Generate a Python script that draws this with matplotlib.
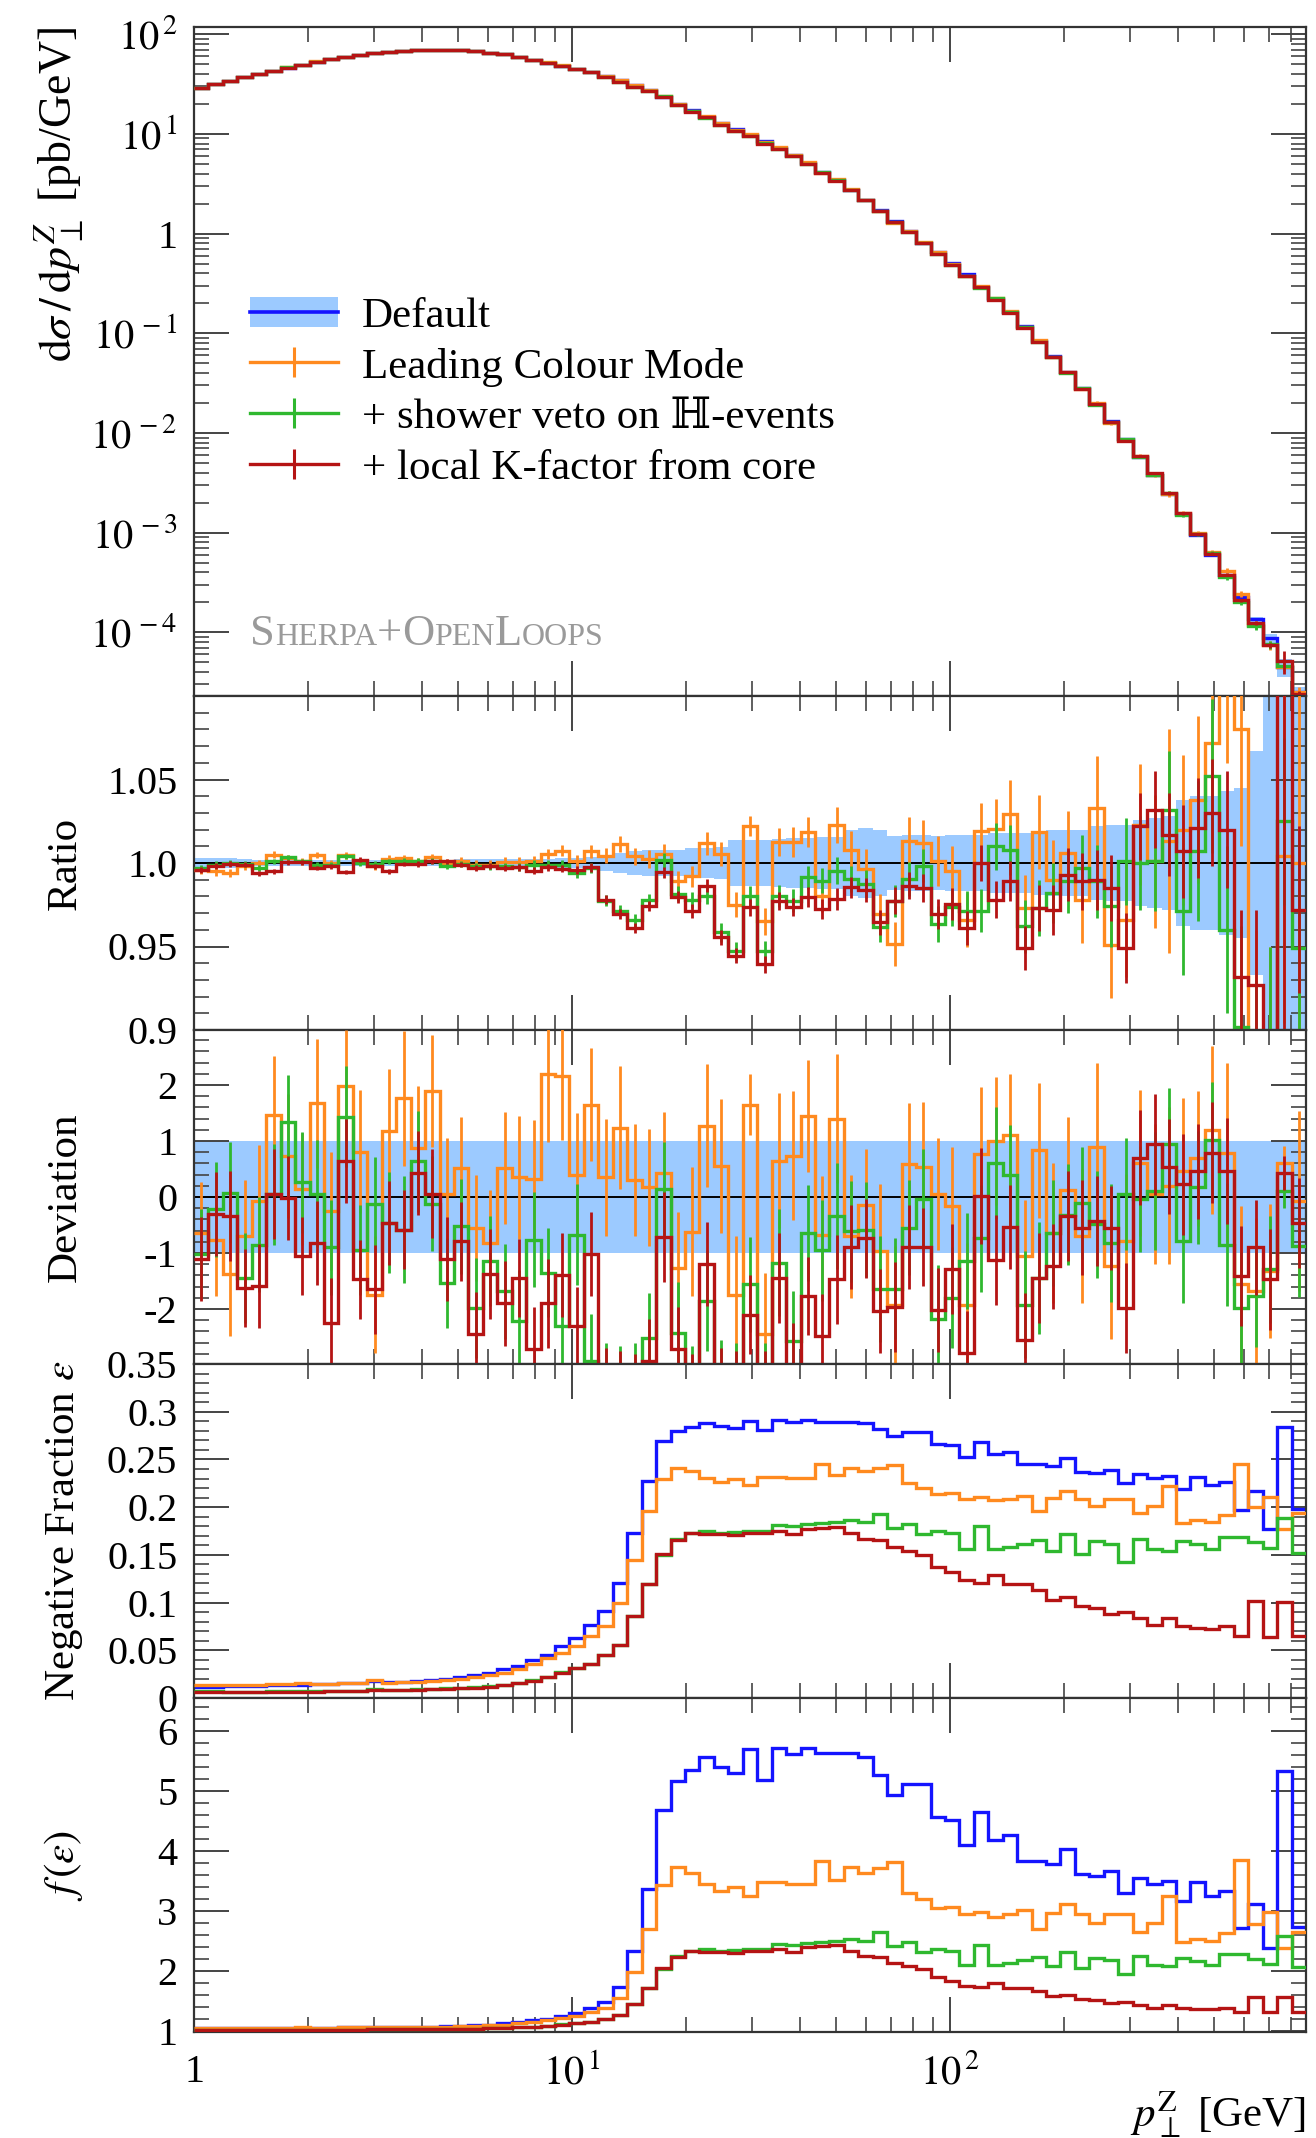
import numpy as np
import matplotlib
matplotlib.use('Agg')
import matplotlib.pyplot as plt
from matplotlib.ticker import FixedLocator, FuncFormatter, NullFormatter
from matplotlib.patches import Patch
from matplotlib.lines import Line2D

plt.rcParams['font.family'] = ['Liberation Serif', 'DejaVu Serif']
plt.rcParams['mathtext.fontset'] = 'stix'
plt.rcParams['axes.unicode_minus'] = False

# binning in pT (log bins)
pt_min, pt_max, n_bins = 1.0, 875.0, 77
edges = np.logspace(np.log10(pt_min), np.log10(pt_max), n_bins + 1)
centers = 0.5 * (edges[:-1] + edges[1:])

# dsigma/dpT of the default run [pb/GeV]
xs_default = np.array([
    29.1, 31.5, 34.0, 37.0, 39.9, 42.8, 46.2, 49.5, 53.1, 56.0,
    59.2, 61.9, 64.3, 66.4, 67.9, 68.9, 69.5, 69.5, 68.9, 67.3,
    65.3, 62.8, 59.2, 55.2, 51.9, 48.4, 44.8, 41.5, 38.0, 34.3,
    30.9, 27.5, 23.7, 20.0, 17.2, 14.8, 12.9, 11.2, 9.77, 8.51,
    7.24, 6.10, 5.07, 4.17, 3.43, 2.75, 2.19, 1.74, 1.35, 1.05,
    0.813, 0.646, 0.501, 0.389, 0.292, 0.221, 0.162, 0.119, 0.0841, 0.0589,
    0.0407, 0.0282, 0.0195, 0.0132, 0.00871, 0.00575, 0.0038, 0.00243, 0.00155, 0.000955,
    0.000596, 0.000372, 0.000224, 0.000135, 0.000087, 0.000045, 0.000025])

# relative uncertainty of the default run (ratio band half width)
band_default = np.array([
    0.003, 0.003, 0.0028, 0.0025, 0.002, 0.0018, 0.0018, 0.0017, 0.0018, 0.0018,
    0.0019, 0.0018, 0.0019, 0.0018, 0.0019, 0.0019, 0.002, 0.002, 0.0021, 0.0021,
    0.0022, 0.0022, 0.0023, 0.0024, 0.0025, 0.0028, 0.003, 0.0035, 0.005, 0.006,
    0.007, 0.0075, 0.0075, 0.008, 0.009, 0.009, 0.0095, 0.014, 0.014, 0.014,
    0.0145, 0.015, 0.015, 0.0155, 0.0155, 0.02, 0.021, 0.02, 0.016, 0.017,
    0.017, 0.016, 0.017, 0.017, 0.017, 0.018, 0.018, 0.018, 0.019, 0.02,
    0.02, 0.02, 0.022, 0.023, 0.023, 0.026, 0.027, 0.028, 0.038, 0.04,
    0.04, 0.043, 0.045, 0.067, 0.1, 0.2, 0.12])

# ratios to default
ratio_lc = np.array([
    0.996, 0.995, 0.994, 0.998, 1.0, 1.005, 1.003, 1.001, 1.005, 1.0,
    1.0046, 1.001, 0.998, 1.0026, 1.003, 1.001, 1.0034, 1.0, 1.001, 0.999,
    0.999, 1.0006, 1.0004, 1.001, 1.0054, 1.0074, 1.0014, 1.007, 1.0044, 1.0114,
    1.004, 1.0024, 1.0054, 0.989, 0.992, 1.0118, 1.0054, 0.975, 1.0224, 0.965,
    1.0124, 1.0124, 1.0184, 0.9804, 1.0228, 1.008, 0.9964, 0.9694, 0.9514, 1.0134,
    1.0118, 1.0014, 0.9954, 0.966, 1.019, 1.0204, 1.0296, 0.973, 1.0186, 0.99,
    1.006, 0.978, 1.033, 0.951, 0.966, 1.023, 1.001, 1.013, 1.0196, 1.038,
    1.072, 1.12, 1.08, 0.88, 0.86, 1.004, 1.0])
ratio_veto = np.array([
    0.997, 0.999, 1.0, 0.9994, 0.997, 1.001, 1.0034, 1.001, 0.999, 0.999,
    1.004, 1.0, 0.9994, 1.001, 1.001, 1.0014, 1.001, 0.998, 0.9994, 0.998,
    0.998, 0.998, 0.9974, 0.999, 0.999, 0.9988, 0.994, 0.997, 0.9775, 0.9715,
    0.9656, 0.9776, 1.0016, 0.9816, 0.9778, 0.9804, 0.9584, 0.9474, 0.9804, 0.9474,
    0.9804, 0.9774, 0.9914, 0.9894, 0.9954, 0.9904, 0.9874, 0.9614, 0.9774, 0.9904,
    0.9984, 0.9634, 0.9734, 0.971, 0.9714, 1.01, 1.008, 0.962, 0.973, 0.982,
    0.989, 0.997, 0.989, 0.974, 1.001, 1.0, 1.001, 1.032, 0.971, 1.007,
    1.052, 0.96, 0.902, 0.86, 0.87, 1.025, 0.949])
ratio_kfac = np.array([
    0.996, 0.998, 0.9994, 0.999, 0.994, 0.995, 1.0004, 1.0004, 0.997, 0.998,
    0.9946, 1.002, 0.998, 0.995, 0.9994, 0.9994, 1.001, 1.001, 0.999, 0.997,
    0.9984, 0.997, 0.9974, 0.9954, 0.9974, 0.9966, 0.9956, 0.9974, 0.978, 0.9692,
    0.9612, 0.9742, 0.9944, 0.9796, 0.9712, 0.9864, 0.9554, 0.9444, 0.9734, 0.9394,
    0.9774, 0.9738, 0.9798, 0.9724, 0.9784, 0.9854, 0.9838, 0.9644, 0.9774, 0.9864,
    0.985, 0.9694, 0.9754, 0.961, 1.0, 0.978, 0.989, 0.949, 0.973, 0.972,
    0.993, 0.989, 0.99, 0.985, 0.949, 1.022, 1.032, 1.017, 1.007, 1.021,
    1.03, 1.02, 0.932, 0.927, 0.85, 1.15, 0.972])

# relative statistical errors of the ratios
rerr_lc = np.array([
    0.0025, 0.0025, 0.0025, 0.0022, 0.002, 0.002, 0.0018, 0.002, 0.0018, 0.002,
    0.002, 0.002, 0.0022, 0.002, 0.002, 0.0022, 0.002, 0.0022, 0.0024, 0.0025,
    0.0025, 0.0028, 0.003, 0.003, 0.0032, 0.0035, 0.0035, 0.004, 0.0045, 0.005,
    0.005, 0.0055, 0.006, 0.006, 0.0065, 0.007, 0.007, 0.0075, 0.006, 0.008,
    0.0085, 0.009, 0.009, 0.01, 0.011, 0.011, 0.012, 0.012, 0.013, 0.014,
    0.014, 0.015, 0.015, 0.016, 0.017, 0.018, 0.02, 0.02, 0.022, 0.024,
    0.025, 0.026, 0.031, 0.032, 0.034, 0.036, 0.04, 0.067, 0.045, 0.05,
    0.055, 0.06, 0.07, 0.08, 0.09, 0.1, 0.12])
rerr_veto = np.array([
    0.002, 0.002, 0.002, 0.0018, 0.0016, 0.0015, 0.0015, 0.0015, 0.0015, 0.0015,
    0.0016, 0.0016, 0.0016, 0.0016, 0.0017, 0.0017, 0.0018, 0.0018, 0.0019, 0.002,
    0.002, 0.0022, 0.0024, 0.0025, 0.0026, 0.0028, 0.003, 0.003, 0.0035, 0.0035,
    0.004, 0.004, 0.0045, 0.0045, 0.005, 0.005, 0.0055, 0.0055, 0.006, 0.006,
    0.0065, 0.007, 0.007, 0.0075, 0.008, 0.008, 0.0085, 0.009, 0.0095, 0.01,
    0.01, 0.011, 0.011, 0.012, 0.013, 0.014, 0.015, 0.016, 0.017, 0.018,
    0.019, 0.02, 0.022, 0.024, 0.026, 0.028, 0.03, 0.035, 0.038, 0.042,
    0.046, 0.05, 0.06, 0.07, 0.08, 0.05, 0.07])
rerr_kfac = np.array([
    0.0018, 0.0018, 0.0018, 0.0016, 0.0015, 0.0014, 0.0014, 0.0013, 0.0013, 0.0013,
    0.0013, 0.0014, 0.0014, 0.0014, 0.0014, 0.0015, 0.0015, 0.0015, 0.0016, 0.0016,
    0.0017, 0.0018, 0.0019, 0.002, 0.0021, 0.0022, 0.0024, 0.0025, 0.0028, 0.003,
    0.003, 0.0032, 0.0035, 0.0035, 0.004, 0.004, 0.0045, 0.0045, 0.005, 0.005,
    0.0055, 0.0055, 0.006, 0.006, 0.0065, 0.0065, 0.007, 0.0075, 0.008, 0.008,
    0.0085, 0.009, 0.0095, 0.01, 0.011, 0.011, 0.012, 0.013, 0.014, 0.015,
    0.016, 0.017, 0.018, 0.02, 0.021, 0.02, 0.023, 0.025, 0.028, 0.03,
    0.032, 0.035, 0.04, 0.045, 0.05, 0.3, 0.05])

# deviation from default in units of its uncertainty
dev_lc = np.array([
    -0.64, -0.77, -1.38, -0.7, -0.07, 1.46, 0.73, 0.14, 1.67, -0.25,
    1.98, 0.81, -1.74, 1.18, 1.76, 0.88, 1.89, 0.05, 0.52, -0.55,
    -0.82, 0.52, 0.35, 0.32, 2.19, 2.16, 0.4, 1.65, 0.35, 1.24,
    0.3, 0.17, 0.42, -1.26, -0.62, 1.27, 0.55, -1.75, 1.65, -2.45,
    0.65, 0.74, 1.45, -0.67, 1.4, -0.7, -0.14, -0.96, -1.92, 0.58,
    0.54, 0.06, -0.16, -1.92, 0.76, 1.0, 1.1, -1.05, 0.83, -0.64,
    0.12, -0.7, 0.89, -1.23, -0.79, 0.61, 0.05, 0.2, 0.46, 0.69,
    1.19, 0.79, -1.56, -1.68, -1.32, 0.61, -0.07])
dev_veto = np.array([
    -1.02, -0.22, 0.08, -1.44, -0.85, 0.05, 1.33, 0.26, 0.06, -0.9,
    1.43, -0.95, -0.13, -0.46, -0.58, 0.64, -0.12, -1.53, -0.52, -1.98,
    -1.14, -1.68, -2.21, -0.76, -1.35, -2.3, -0.67, -2.93, -3.5, -3.5,
    -3.5, -2.51, 0.14, -2.42, -3.5, -1.85, -3.5, -3.5, -1.56, -3.5,
    -1.17, -2.57, -0.64, -0.95, -0.34, -0.61, -0.58, -1.64, -1.64, -0.55,
    -0.04, -2.17, -1.8, -1.14, -0.74, 0.6, 0.39, -1.92, -1.44, -0.64,
    -0.32, -0.1, -0.49, -0.82, 0.06, -0.04, 0.11, 0.94, -0.79, 0.17,
    1.01, -0.85, -1.98, -1.77, -1.29, 0.1, -0.88])
dev_kfac = np.array([
    -1.11, -0.3, -0.34, -1.62, -1.58, 0.05, -0.01, -1.05, -0.82, -2.24,
    0.64, -1.47, -1.65, -0.46, -0.58, 0.43, 0.06, -1.11, -0.79, -2.45,
    -1.37, -1.9, -1.45, -2.72, -1.9, -1.39, -2.3, -1.02, -3.5, -3.5,
    -3.5, -2.93, -0.71, -2.72, -3.5, -1.2, -3.5, -3.5, -2.1, -3.5,
    -1.44, -3.0, -1.77, -2.48, -1.47, -0.89, -0.74, -2.04, -1.96, -0.89,
    -0.89, -2.01, -1.29, -2.78, 0.02, -1.13, -0.54, -2.56, -1.44, -1.24,
    -0.34, -0.55, -0.43, -0.55, -1.98, 0.7, 0.94, 0.54, 0.23, 0.46,
    0.79, 0.46, -1.41, -0.9, -1.47, 0.43, -0.46])

dev_err_lc = np.array([
    0.9, 1.0, 1.1, 1.0, 1.0, 1.05, 1.1, 1.0, 1.15, 1.05,
    1.0, 1.1, 1.05, 1.1, 1.2, 1.1, 1.0, 1.0, 0.9, 0.95,
    0.95, 1.0, 1.1, 1.05, 1.2, 1.15, 1.1, 1.0, 1.05, 1.1,
    1.0, 1.05, 1.1, 1.0, 1.15, 1.1, 1.2, 1.05, 0.55, 1.1,
    1.2, 1.15, 1.0, 1.05, 1.15, 1.1, 1.0, 1.2, 1.05, 1.1,
    1.15, 1.0, 1.05, 1.1, 1.2, 1.15, 1.1, 1.0, 1.2, 1.25,
    1.3, 1.2, 1.5, 1.3, 1.2, 1.3, 1.25, 1.4, 1.3, 1.2,
    1.5, 1.6, 1.4, 1.3, 1.2, 0.3, 1.6])
dev_err_veto = np.array([
    0.8, 0.85, 0.9, 0.8, 0.85, 0.9, 0.85, 0.9, 0.95, 0.85,
    0.9, 0.8, 0.85, 0.9, 0.95, 0.9, 0.85, 0.8, 0.85, 0.9,
    0.8, 0.85, 0.9, 0.85, 0.8, 0.85, 0.9, 0.85, 0.9, 0.85,
    0.9, 0.8, 0.85, 0.9, 0.85, 0.9, 0.95, 0.9, 0.85, 0.9,
    0.95, 0.9, 0.85, 0.9, 0.95, 0.9, 0.85, 0.95, 0.9, 0.85,
    0.9, 0.95, 0.9, 0.85, 0.95, 1.0, 0.9, 0.95, 1.0, 0.95,
    0.9, 1.0, 0.95, 1.05, 1.0, 0.95, 1.05, 1.0, 1.1, 1.0,
    1.05, 1.1, 1.0, 0.9, 0.95, 0.3, 0.9])
dev_err_kfac = np.array([
    0.75, 0.75, 0.8, 0.7, 0.75, 0.8, 0.75, 0.7, 0.75, 0.8,
    0.75, 0.7, 0.8, 0.75, 0.7, 0.75, 0.8, 0.75, 0.7, 0.75,
    0.8, 0.75, 0.7, 0.75, 0.8, 0.75, 0.7, 0.75, 0.8, 0.75,
    0.7, 0.75, 0.8, 0.75, 0.7, 0.75, 0.8, 0.75, 0.7, 0.75,
    0.8, 0.75, 0.7, 0.75, 0.8, 0.75, 0.7, 0.75, 0.8, 0.75,
    0.7, 0.75, 0.8, 0.75, 0.85, 0.8, 0.75, 0.85, 0.8, 0.75,
    0.8, 0.85, 0.8, 0.75, 0.8, 0.85, 0.9, 0.85, 0.9, 0.85,
    0.9, 0.95, 0.9, 0.85, 0.9, 0.3, 0.8])

# negative weight fraction epsilon
eps_default = np.array([
    0.012, 0.012, 0.0125, 0.013, 0.013, 0.0135, 0.014, 0.014, 0.0145, 0.015,
    0.0155, 0.016, 0.0175, 0.0165, 0.017, 0.018, 0.019, 0.020, 0.022, 0.024,
    0.026, 0.030, 0.034, 0.040, 0.0455, 0.055, 0.063, 0.077, 0.091, 0.12,
    0.173, 0.2275, 0.269, 0.28, 0.284, 0.288, 0.285, 0.283, 0.2905, 0.2805,
    0.291, 0.289, 0.291, 0.2895, 0.2895, 0.2895, 0.288, 0.282, 0.275, 0.279,
    0.279, 0.266, 0.265, 0.253, 0.268, 0.2555, 0.258, 0.245, 0.245, 0.243,
    0.251, 0.237, 0.236, 0.239, 0.225, 0.2345, 0.231, 0.233, 0.2195, 0.232,
    0.223, 0.2265, 0.197, 0.217, 0.177, 0.2835, 0.198])
eps_lc = np.array([
    0.014, 0.014, 0.0135, 0.014, 0.014, 0.0145, 0.015, 0.0155, 0.015, 0.015,
    0.0155, 0.016, 0.0185, 0.016, 0.0165, 0.017, 0.018, 0.019, 0.020, 0.022,
    0.024, 0.026, 0.030, 0.036, 0.042, 0.047, 0.054, 0.065, 0.075, 0.10,
    0.145, 0.196, 0.23, 0.2415, 0.238, 0.231, 0.226, 0.229, 0.223, 0.232,
    0.232, 0.231, 0.231, 0.245, 0.2335, 0.2415, 0.238, 0.241, 0.244, 0.225,
    0.2205, 0.214, 0.215, 0.209, 0.211, 0.207, 0.209, 0.212, 0.196, 0.21,
    0.217, 0.209, 0.201, 0.209, 0.209, 0.1935, 0.201, 0.2225, 0.183, 0.1865,
    0.184, 0.192, 0.2455, 0.2005, 0.211, 0.177, 0.1935])
eps_veto = np.array([
    0.007, 0.007, 0.0065, 0.0065, 0.0065, 0.007, 0.007, 0.007, 0.007, 0.007,
    0.0075, 0.0075, 0.009, 0.0085, 0.0085, 0.009, 0.0095, 0.010, 0.0105, 0.0115,
    0.0125, 0.014, 0.016, 0.0185, 0.022, 0.027, 0.031, 0.036, 0.045, 0.056,
    0.086, 0.119, 0.15, 0.167, 0.173, 0.175, 0.173, 0.174, 0.175, 0.175,
    0.181, 0.180, 0.182, 0.183, 0.184, 0.1865, 0.1845, 0.193, 0.1785, 0.1825,
    0.172, 0.1755, 0.1725, 0.156, 0.180, 0.156, 0.158, 0.1615, 0.166, 0.154,
    0.172, 0.151, 0.165, 0.1615, 0.143, 0.167, 0.156, 0.154, 0.1645, 0.161,
    0.156, 0.169, 0.169, 0.163, 0.157, 0.189, 0.152])
eps_kfac = np.array([
    0.006, 0.006, 0.006, 0.006, 0.006, 0.0065, 0.0065, 0.0065, 0.0065, 0.007,
    0.007, 0.007, 0.0085, 0.008, 0.008, 0.0085, 0.009, 0.0095, 0.010, 0.011,
    0.012, 0.0135, 0.0155, 0.018, 0.0215, 0.026, 0.031, 0.036, 0.045, 0.056,
    0.086, 0.119, 0.151, 0.166, 0.173, 0.172, 0.1715, 0.171, 0.173, 0.173,
    0.175, 0.1715, 0.1775, 0.1785, 0.1795, 0.1725, 0.167, 0.166, 0.1585, 0.154,
    0.1495, 0.137, 0.132, 0.1235, 0.121, 0.1285, 0.1195, 0.1195, 0.113, 0.103,
    0.106, 0.096, 0.0945, 0.0885, 0.090, 0.084, 0.076, 0.084, 0.075, 0.073,
    0.0725, 0.075, 0.065, 0.102, 0.064, 0.101, 0.065])

labels = ['Default', 'Leading Colour Mode',
          '+ shower veto on \u210d-events', '+ local K-factor from core']

c_blue = '#1414ff'
c_band = '#9ccaff'
c_orange = '#ff8a1f'
c_green = '#2fb82f'
c_red = '#b51414'

# statistical dilution factor f(eps) = 1/(1-2 eps)^2
def dilution(eps):
    return 1.0 / (1.0 - 2.0 * eps) ** 2

fig = plt.figure(figsize=(13.16, 21.38), dpi=100)
L, W = 194 / 1316, 1112 / 1316
bounds = [27, 696, 1030, 1364, 1698, 2032]
axes = []
for i in range(5):
    top, bot = bounds[i], bounds[i + 1]
    axes.append(fig.add_axes([L, 1 - bot / 2138, W, (bot - top) / 2138]))
ax_xs, ax_r, ax_d, ax_e, ax_f = axes

label_size = 31
tick_size = 29

x_minor = [m * d for d in (1, 10, 100) for m in range(2, 10) if m * d < pt_max]
for ax in axes:
    ax.set_xscale('log')
    ax.set_xlim(pt_min, pt_max)
    ax.xaxis.set_major_locator(FixedLocator([1, 10, 100]))
    ax.xaxis.set_minor_locator(FixedLocator(x_minor))
    ax.xaxis.set_minor_formatter(NullFormatter())
    ax.tick_params(which='both', direction='in', top=True, right=True,
                   color='#444444', labelsize=tick_size, pad=12)
    ax.tick_params(which='major', length=25, width=1.4)
    ax.tick_params(which='minor', length=11, width=1.2)
    ax.tick_params(axis='x', labelbottom=False)
    for s in ax.spines.values():
        s.set_linewidth(1.6)
        s.set_color('#333333')

ax_f.tick_params(axis='x', labelbottom=True, pad=16)
ax_f.xaxis.set_major_formatter(FuncFormatter(
    lambda v, p: '1' if abs(v - 1) < 1e-9 else r'$10^{\,%d}$' % round(np.log10(v))))

lw = 2.4


def hist(ax, vals, color, err=None, z=3):
    ax.stairs(vals, edges, color=color, lw=lw, baseline=None, zorder=z)
    if err is not None:
        ax.errorbar(centers, vals, yerr=err, fmt='none', ecolor=color,
                    elinewidth=2.0, capsize=0, zorder=z)


# --- main distribution ---
ax_xs.set_yscale('log')
ax_xs.set_ylim(2.3e-5, 118)
ax_xs.yaxis.set_major_locator(FixedLocator([10.0 ** k for k in range(-4, 3)]))
ax_xs.yaxis.set_minor_locator(FixedLocator(
    [m * 10.0 ** k for k in range(-5, 3) for m in range(2, 10)]))
ax_xs.yaxis.set_minor_formatter(NullFormatter())
ax_xs.yaxis.set_major_formatter(FuncFormatter(
    lambda v, p: '1' if abs(v - 1) < 1e-9 else r'$10^{\,%d}$' % round(np.log10(v))))
ax_xs.stairs(xs_default * (1 + band_default), edges,
             baseline=xs_default * (1 - band_default), fill=True,
             color=c_band, lw=0, zorder=1)
hist(ax_xs, xs_default, c_blue, z=2)
hist(ax_xs, xs_default * ratio_lc, c_orange, xs_default * rerr_lc, z=3)
hist(ax_xs, xs_default * ratio_veto, c_green, xs_default * rerr_veto, z=4)
hist(ax_xs, xs_default * ratio_kfac, c_red, xs_default * rerr_kfac, z=5)
ax_xs.set_ylabel(r'$\mathrm{d}\sigma\,/\,\mathrm{d}p_{\perp}^{Z}$ [pb/GeV]',
                 fontsize=33, loc='top')
ax_xs.yaxis.set_label_coords(-0.098, 1.0)

h_def = (Patch(facecolor=c_band, edgecolor='none'),
         Line2D([], [], color=c_blue, lw=2.6))
h_other = [Line2D([], [], color=c, lw=2.4, marker='|', markersize=21,
                  markeredgewidth=2.2) for c in (c_orange, c_green, c_red)]
ax_xs.legend([h_def] + h_other, labels, loc='upper left',
             bbox_to_anchor=(0.0504, 0.597), frameon=False, fontsize=label_size,
             handlelength=2.05, handleheight=0.7, handletextpad=0.55,
             labelspacing=0.27, borderpad=0, borderaxespad=0)

# small caps generator tag
renderer = fig.canvas.get_renderer()
pieces = [('S', 32), ('HERPA', 23), ('+', 32), ('O', 32), ('PEN', 23),
          ('L', 32), ('OOPS', 23)]
x0 = 0.0504
ax_w = ax_xs.get_window_extent(renderer).width
for txt, size in pieces:
    t = ax_xs.text(x0, 0.076, txt, transform=ax_xs.transAxes, fontsize=size,
                   color='#9a9a9a', va='baseline', ha='left')
    x0 += t.get_window_extent(renderer).width / ax_w

# --- ratio ---
ax_r.set_ylim(0.9, 1.1)
ax_r.yaxis.set_major_locator(FixedLocator([0.9, 0.95, 1.0, 1.05, 1.1]))
ax_r.yaxis.set_major_formatter(FuncFormatter(
    lambda v, p: {0: '0.9', 1: '0.95', 2: '1.0', 3: '1.05'}.get(p, '')))
ax_r.yaxis.set_minor_locator(FixedLocator(np.arange(0.9, 1.1001, 0.01)))
ax_r.stairs(1 + band_default, edges, baseline=1 - band_default, fill=True,
            color=c_band, lw=0, zorder=1)
ax_r.axhline(1.0, color='black', lw=1.4, zorder=2)
hist(ax_r, ratio_lc, c_orange, rerr_lc, z=3)
hist(ax_r, ratio_veto, c_green, rerr_veto, z=4)
hist(ax_r, ratio_kfac, c_red, rerr_kfac, z=5)
ax_r.set_ylabel('Ratio', fontsize=label_size)
ax_r.yaxis.set_label_coords(-0.098, 0.5)

# --- deviation ---
ax_d.set_ylim(-2.98, 2.98)
ax_d.yaxis.set_major_locator(FixedLocator([-2, -1, 0, 1, 2]))
ax_d.yaxis.set_major_formatter(FuncFormatter(lambda v, p: '%d' % round(v)))
ax_d.yaxis.set_minor_locator(FixedLocator(np.arange(-2.8, 2.81, 0.2)))
ax_d.stairs(np.ones(n_bins), edges, baseline=-np.ones(n_bins), fill=True,
            color=c_band, lw=0, zorder=1)
ax_d.axhline(0.0, color='black', lw=1.4, zorder=2)
hist(ax_d, dev_lc, c_orange, dev_err_lc, z=3)
hist(ax_d, dev_veto, c_green, dev_err_veto, z=4)
hist(ax_d, dev_kfac, c_red, dev_err_kfac, z=5)
ax_d.set_ylabel('Deviation', fontsize=label_size)
ax_d.yaxis.set_label_coords(-0.098, 0.5)

# --- negative fraction ---
ax_e.set_ylim(0, 0.35)
ax_e.yaxis.set_major_locator(FixedLocator(np.arange(0, 0.351, 0.05)))
ax_e.yaxis.set_major_formatter(FuncFormatter(
    lambda v, p: '0' if abs(v) < 1e-9 else ('%.2f' % v).rstrip('0')))
ax_e.yaxis.set_minor_locator(FixedLocator(np.arange(0, 0.351, 0.01)))
hist(ax_e, eps_default, c_blue, z=2)
hist(ax_e, eps_lc, c_orange, z=3)
hist(ax_e, eps_veto, c_green, z=4)
hist(ax_e, eps_kfac, c_red, z=5)
ax_e.set_ylabel(r'Negative Fraction $\varepsilon$', fontsize=label_size)
ax_e.yaxis.set_label_coords(-0.098, 0.5)

# --- f(eps) ---
ax_f.set_ylim(0.99, 6.55)
ax_f.yaxis.set_major_locator(FixedLocator([1, 2, 3, 4, 5, 6]))
ax_f.yaxis.set_major_formatter(FuncFormatter(lambda v, p: '%d' % round(v)))
ax_f.yaxis.set_minor_locator(FixedLocator(np.arange(1.2, 6.55, 0.2)))
hist(ax_f, dilution(eps_default), c_blue, z=2)
hist(ax_f, dilution(eps_lc), c_orange, z=3)
hist(ax_f, dilution(eps_veto), c_green, z=4)
hist(ax_f, dilution(eps_kfac), c_red, z=5)
ax_f.set_ylabel(r'$f\,(\varepsilon)$', fontsize=label_size)
ax_f.yaxis.set_label_coords(-0.098, 0.5)
ax_f.set_xlabel(r'$p_{\perp}^{\mathrm{Z}}$ [GeV]', fontsize=label_size, loc='right')
ax_f.xaxis.set_label_coords(1.0, -0.17)

fig.savefig('out.png', dpi=100)
